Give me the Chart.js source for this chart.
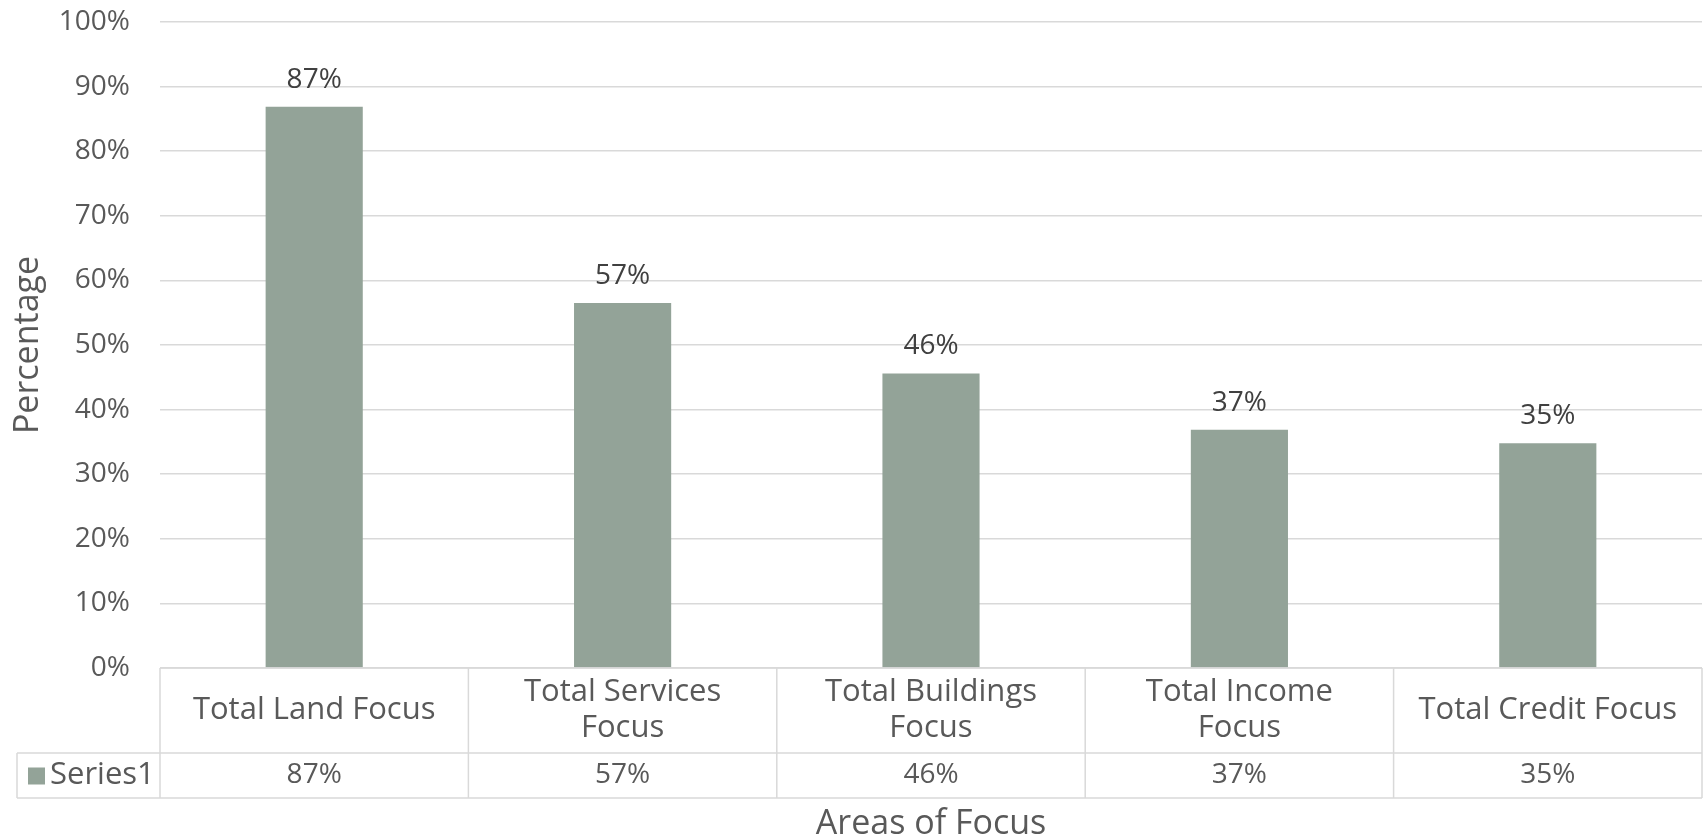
<!DOCTYPE html>
<html>
<head>
<meta charset="utf-8">
<script src="https://cdn.jsdelivr.net/npm/chart.js@4/dist/chart.umd.min.js"></script>
<style>
  html, body { margin: 0; padding: 0; background: #ffffff; }
  #wrap { width: 1708px; height: 840px; }
</style>
</head>
<body>
<div id="wrap"><canvas id="chart" width="1708" height="840"></canvas></div>
<script>
const categories = [
  ['Total Land Focus'],
  ['Total Services', 'Focus'],
  ['Total Buildings', 'Focus'],
  ['Total Income', 'Focus'],
  ['Total Credit Focus']
]
const seriesName = 'Series1'
const values = [86.9, 56.5, 45.6, 36.9, 34.8]
const yTicks = [0, 10, 20, 30, 40, 50, 60, 70, 80, 90, 100]

const fontFamily = '"Open Sans", sans-serif'
const numSize = 28
const textSize = 31
const titleSize = 34
const barColor = '#93A398'
const lineColor = '#D9D9D9'
const tickColor = '#595959'
const labelColor = '#404040'

const pct = (v) => Math.round(v) + '%'

// data labels above bars + data table under the plot
const tablePlugin = {
  id: 'table',
  afterDatasetsDraw(chart) {
    const ctx = chart.ctx
    const meta = chart.getDatasetMeta(0)
    ctx.save()
    ctx.font = numSize + 'px ' + fontFamily
    ctx.fillStyle = labelColor
    ctx.textAlign = 'center'
    ctx.textBaseline = 'alphabetic'
    meta.data.forEach((bar, i) => {
      ctx.fillText(pct(values[i]), bar.x, bar.y - 19)
    })
    ctx.restore()
  },
  afterDraw(chart) {
    const ctx = chart.ctx
    const x = chart.scales.x
    const area = chart.chartArea
    const n = categories.length
    const cellW = (area.right - area.left) / n
    const top = area.bottom
    const mid = top + 85
    const bottom = mid + 45
    const legendLeft = 17

    ctx.save()
    ctx.strokeStyle = lineColor
    ctx.lineWidth = 1.5
    ctx.beginPath()
    ctx.moveTo(area.left, top); ctx.lineTo(area.right, top)
    ctx.moveTo(legendLeft, mid); ctx.lineTo(area.right, mid)
    ctx.moveTo(legendLeft, bottom); ctx.lineTo(area.right, bottom)
    ctx.moveTo(legendLeft, mid); ctx.lineTo(legendLeft, bottom)
    for (let i = 0; i <= n; i++) {
      const cx = x.getPixelForValue(0) - cellW / 2 + i * cellW
      ctx.moveTo(cx, top); ctx.lineTo(cx, bottom)
    }
    ctx.stroke()

    ctx.fillStyle = tickColor
    ctx.textAlign = 'center'
    ctx.textBaseline = 'middle'
    const rowMid = (top + mid) / 2
    categories.forEach((lines, i) => {
      const cx = x.getPixelForValue(i)
      const lh = 36
      const y0 = rowMid - (lines.length - 1) * lh / 2
      ctx.font = textSize + 'px ' + fontFamily
      lines.forEach((t, j) => ctx.fillText(t, cx, y0 + j * lh))
      ctx.font = numSize + 'px ' + fontFamily
      ctx.fillText(pct(values[i]), cx, (mid + bottom) / 2)
    })

    // legend key
    ctx.fillStyle = barColor
    ctx.fillRect(28, (mid + bottom) / 2 - 8, 17, 17)
    ctx.fillStyle = tickColor
    ctx.textAlign = 'left'
    ctx.font = textSize + 'px ' + fontFamily
    ctx.fillText(seriesName, 50, (mid + bottom) / 2)
    ctx.restore()
  }
}

new Chart(document.getElementById('chart'), {
  type: 'bar',
  data: {
    labels: categories,
    datasets: [{
      label: seriesName,
      data: values,
      backgroundColor: barColor,
      barPercentage: 0.315,
      categoryPercentage: 1
    }]
  },
  options: {
    responsive: false,
    animation: false,
    layout: { padding: { top: 22, right: 6, left: 0, bottom: 0 } },
    plugins: {
      legend: { display: false },
      tooltip: { enabled: false }
    },
    scales: {
      x: {
        grid: { display: false },
        border: { display: false },
        ticks: { display: false },
        title: {
          display: true,
          text: 'Areas of Focus',
          color: tickColor,
          font: { family: fontFamily, size: titleSize, lineHeight: 0.9 },
          padding: { top: 0, bottom: 0 }
        },
        afterFit: (s) => { s.height = 172 }
      },
      y: {
        min: 0,
        max: 100,
        afterBuildTicks: (s) => { s.ticks = yTicks.map(v => ({ value: v })) },
        grid: { color: lineColor, lineWidth: 1.5, drawTicks: false },
        border: { display: false },
        ticks: {
          padding: 30,
          color: tickColor,
          font: { family: fontFamily, size: numSize },
          callback: (v) => v + '%'
        },
        title: {
          display: true,
          text: 'Percentage',
          color: tickColor,
          font: { family: fontFamily, size: titleSize, lineHeight: 1.2 },
          padding: { top: 8, bottom: 0 }
        },
        afterFit: (s) => {
          s.width = 160
          s.paddingTop = 0
          s.paddingBottom = 0
        }
      }
    }
  },
  plugins: [tablePlugin]
})
</script>
</body>
</html>
